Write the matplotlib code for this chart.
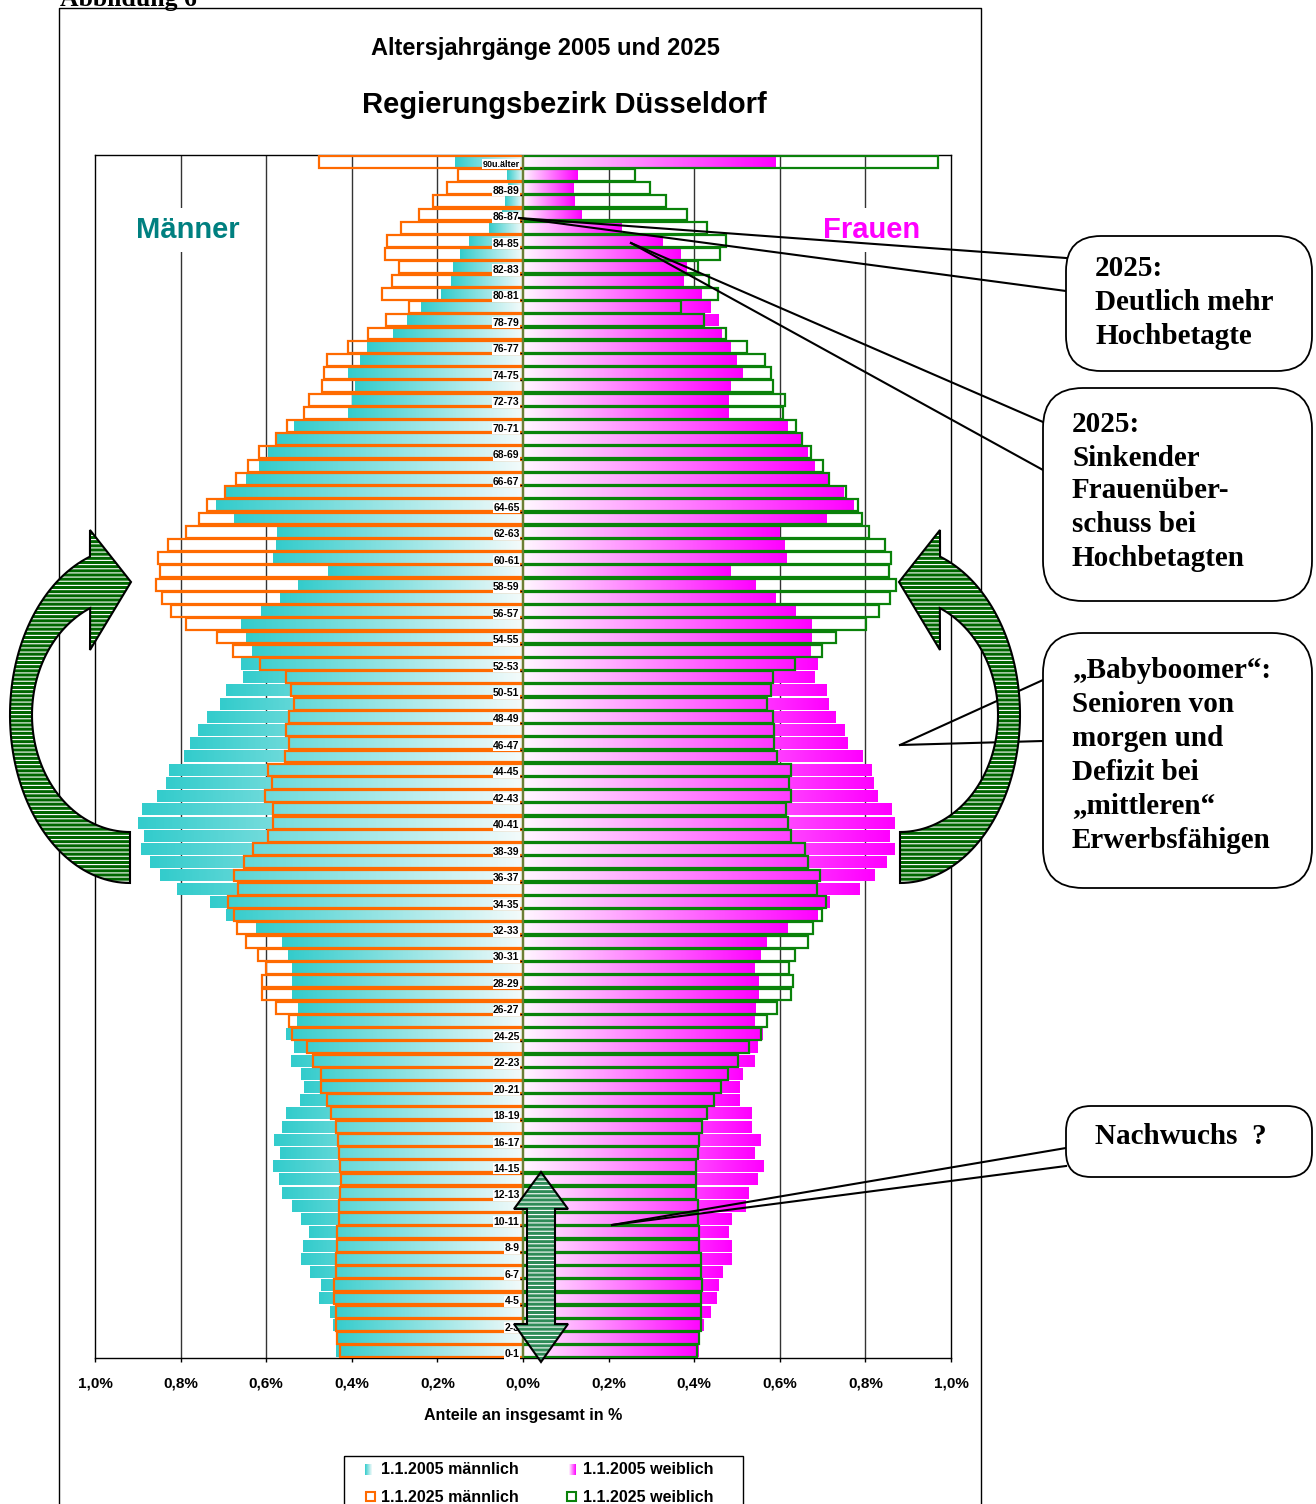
import numpy as np
import matplotlib.pyplot as plt
from matplotlib.colors import LinearSegmentedColormap
from matplotlib.patches import Polygon, FancyBboxPatch, Rectangle

plt.rcParams['font.family'] = ['Liberation Sans', 'DejaVu Sans']
plt.rcParams['hatch.linewidth'] = 0.8

# ages 0 .. 90 (90 = "90 und älter"), shares of total population in %
ages = np.arange(91)

men_2005 = [0.437, 0.434, 0.443, 0.451, 0.477, 0.472, 0.498, 0.519, 0.514, 0.500,
            0.519, 0.540, 0.563, 0.570, 0.584, 0.568, 0.582, 0.563, 0.554, 0.521,
            0.512, 0.519, 0.542, 0.535, 0.554, 0.528, 0.526, 0.540, 0.540, 0.540,
            0.549, 0.563, 0.624, 0.694, 0.731, 0.808, 0.848, 0.871, 0.893, 0.886,
            0.900, 0.890, 0.855, 0.834, 0.827, 0.792, 0.778, 0.759, 0.738, 0.708,
            0.694, 0.654, 0.659, 0.633, 0.647, 0.659, 0.612, 0.568, 0.526, 0.456,
            0.584, 0.577, 0.575, 0.675, 0.717, 0.695, 0.647, 0.617, 0.596, 0.577,
            0.535, 0.409, 0.400, 0.393, 0.409, 0.381, 0.364, 0.304, 0.271, 0.238,
            0.192, 0.168, 0.164, 0.147, 0.126, 0.079, 0.050, 0.042, 0.035, 0.038,
            0.159]

men_2025 = [0.428, 0.434, 0.438, 0.438, 0.442, 0.442, 0.438, 0.438, 0.434, 0.434,
            0.430, 0.430, 0.427, 0.426, 0.428, 0.431, 0.433, 0.438, 0.448, 0.459,
            0.473, 0.473, 0.490, 0.504, 0.540, 0.546, 0.577, 0.610, 0.610, 0.601,
            0.620, 0.648, 0.668, 0.676, 0.690, 0.665, 0.675, 0.651, 0.630, 0.595,
            0.585, 0.585, 0.602, 0.587, 0.595, 0.557, 0.546, 0.553, 0.546, 0.536,
            0.542, 0.553, 0.614, 0.678, 0.714, 0.788, 0.823, 0.844, 0.857, 0.847,
            0.852, 0.830, 0.788, 0.756, 0.739, 0.697, 0.671, 0.643, 0.616, 0.578,
            0.552, 0.511, 0.500, 0.469, 0.464, 0.459, 0.410, 0.361, 0.321, 0.266,
            0.329, 0.307, 0.289, 0.322, 0.317, 0.286, 0.244, 0.210, 0.178, 0.153,
            0.476]

women_2005 = [0.410, 0.411, 0.422, 0.437, 0.451, 0.456, 0.465, 0.488, 0.488, 0.479,
              0.488, 0.519, 0.528, 0.549, 0.563, 0.542, 0.556, 0.533, 0.533, 0.507,
              0.507, 0.514, 0.540, 0.548, 0.560, 0.540, 0.544, 0.551, 0.551, 0.542,
              0.556, 0.568, 0.619, 0.688, 0.717, 0.787, 0.822, 0.850, 0.869, 0.857,
              0.869, 0.860, 0.829, 0.820, 0.815, 0.794, 0.759, 0.752, 0.731, 0.713,
              0.708, 0.681, 0.689, 0.672, 0.675, 0.675, 0.636, 0.591, 0.544, 0.485,
              0.616, 0.611, 0.600, 0.708, 0.773, 0.748, 0.713, 0.680, 0.664, 0.653,
              0.619, 0.479, 0.479, 0.484, 0.513, 0.499, 0.485, 0.463, 0.456, 0.438,
              0.418, 0.376, 0.381, 0.367, 0.325, 0.231, 0.137, 0.121, 0.118, 0.128,
              0.590]

women_2025 = [0.407, 0.411, 0.415, 0.415, 0.415, 0.419, 0.415, 0.415, 0.411, 0.411,
              0.408, 0.408, 0.404, 0.404, 0.404, 0.408, 0.411, 0.418, 0.430, 0.446,
              0.463, 0.478, 0.502, 0.527, 0.555, 0.569, 0.593, 0.625, 0.632, 0.621,
              0.635, 0.667, 0.678, 0.699, 0.709, 0.688, 0.695, 0.667, 0.660, 0.625,
              0.618, 0.614, 0.625, 0.621, 0.625, 0.593, 0.586, 0.586, 0.583, 0.569,
              0.579, 0.583, 0.636, 0.699, 0.731, 0.801, 0.831, 0.857, 0.871, 0.856,
              0.859, 0.846, 0.808, 0.793, 0.783, 0.755, 0.716, 0.702, 0.674, 0.653,
              0.639, 0.607, 0.611, 0.583, 0.579, 0.565, 0.523, 0.475, 0.424, 0.368,
              0.456, 0.435, 0.408, 0.460, 0.475, 0.429, 0.383, 0.334, 0.296, 0.261,
              0.970]

label_ages = list(range(0, 91, 2))
age_labels = ['0-1', '2-3', '4-5', '6-7', '8-9', '10-11', '12-13', '14-15', '16-17',
              '18-19', '20-21', '22-23', '24-25', '26-27', '28-29', '30-31', '32-33',
              '34-35', '36-37', '38-39', '40-41', '42-43', '44-45', '46-47', '48-49',
              '50-51', '52-53', '54-55', '56-57', '58-59', '60-61', '62-63', '64-65',
              '66-67', '68-69', '70-71', '72-73', '74-75', '76-77', '78-79', '80-81',
              '82-83', '84-85', '86-87', '88-89', '90u.älter']

x_ticks = [-1.0, -0.8, -0.6, -0.4, -0.2, 0.0, 0.2, 0.4, 0.6, 0.8, 1.0]
x_ticklabels = ['1,0%', '0,8%', '0,6%', '0,4%', '0,2%', '0,0%',
                '0,2%', '0,4%', '0,6%', '0,8%', '1,0%']

CYAN = '#33cccc'
MAGENTA = '#ff00ff'
ORANGE = '#ff6a00'
GREEN = '#0a820a'
cmap_m = LinearSegmentedColormap.from_list('men', ['#f4fbfb', CYAN])
cmap_f = LinearSegmentedColormap.from_list('women', ['#fff7ff', MAGENTA])

W, H = 1316, 1504
fig = plt.figure(figsize=(W / 100, H / 100), dpi=100)

ax = fig.add_axes([95 / W, 1 - 1358 / H, 856 / W, 1203 / H])
ax.set_xlim(-1, 1)
ax.set_ylim(-0.5, 90.5)
ax.set_autoscale_on(False)

for gx in [-0.8, -0.6, -0.4, -0.2, 0.2, 0.4, 0.6, 0.8]:
    ax.axvline(gx, color='#333333', lw=1, zorder=0.5)

bh = 0.9
grad = np.linspace(0, 1, 200).reshape(1, -1)


def gradient_fill(bars, cmap):
    # each bar gets its own gradient: pale at the centre, full colour at the outer end
    for b in bars:
        x0, w = b.get_x(), b.get_width()
        y0, h = b.get_y(), b.get_height()
        ax.imshow(grad, extent=(x0, x0 + w, y0, y0 + h), cmap=cmap,
                  aspect='auto', interpolation='bilinear', zorder=1)


bars_m05 = ax.barh(ages, -np.array(men_2005), height=bh, color='none', lw=0)
bars_f05 = ax.barh(ages, women_2005, height=bh, color='none', lw=0)
gradient_fill(bars_m05, cmap_m)
gradient_fill(bars_f05, cmap_f)

ax.barh(ages, -np.array(men_2025), height=bh, fill=False, edgecolor=ORANGE, lw=1.6, zorder=3)
ax.barh(ages, women_2025, height=bh, fill=False, edgecolor=GREEN, lw=1.6, zorder=3)

for a, lab in zip(label_ages, age_labels):
    fs = 6.5 if a == 90 else 7.5
    ax.text(-0.008, a - 0.2, lab, ha='right', va='center', fontsize=fs, fontweight='bold',
            zorder=4, bbox=dict(fc='white', ec='none', pad=0.4))
ax.hlines([a - 0.5 for a in label_ages[1:]], -0.008, 0, color='black', lw=1, zorder=4)
ax.axvline(0, color='#7f7f3f', lw=1.2, zorder=5)

ax.set_xticks(x_ticks)
ax.set_xticklabels(x_ticklabels, fontweight='bold', fontsize=11)
ax.set_yticks([])
ax.tick_params(axis='x', direction='out', length=3, width=1, pad=10)
ax.set_xlabel('Anteile an insgesamt in %', fontweight='bold', fontsize=11.5, labelpad=13)
for s in ax.spines.values():
    s.set_color('black')
    s.set_linewidth(1)

# overlay in pixel coordinates for titles, callouts, arrows and legend
ov = fig.add_axes([0, 0, 1, 1], zorder=10)
ov.set_xlim(0, W)
ov.set_ylim(H, 0)
ov.set_autoscale_on(False)
ov.axis('off')

ov.plot([59, 59, 981, 981], [H, 8, 8, H], color='black', lw=1)
ov.text(60, 6, 'Abbildung 6', family='Liberation Serif', fontweight='bold',
        fontsize=18.5, va='baseline', ha='left')

ov.text(545, 49, 'Altersjahrgänge 2005 und 2025', ha='center', va='center',
        fontsize=17, fontweight='bold')
ov.text(564, 105, 'Regierungsbezirk Düsseldorf', ha='center', va='center',
        fontsize=21, fontweight='bold')

ov.text(188, 230, 'Männer', ha='center', va='center', fontsize=21, fontweight='bold',
        color='#008080', bbox=dict(fc='white', ec='none', pad=6))
ov.text(872, 230, 'Frauen', ha='center', va='center', fontsize=21, fontweight='bold',
        color=MAGENTA, bbox=dict(fc='white', ec='none', pad=6))


def callout(x0, y0, x1, y1, r, tip, bases, lines, tx, ty):
    ov.add_patch(FancyBboxPatch((x0, y0), x1 - x0, y1 - y0,
                                boxstyle=f'round,pad=0,rounding_size={r}',
                                fc='white', ec='black', lw=1.3, zorder=6))
    for bx, by in bases:
        ov.plot([tip[0], bx], [tip[1], by], color='black', lw=1.5, zorder=5)
    for txt, yy in zip(lines, ty):
        ov.text(tx, yy, txt, family='Liberation Serif', fontweight='bold', fontsize=21,
                ha='left', va='center', zorder=7)


callout(1066, 236, 1312, 371, 35, (519, 218), [(1066, 258), (1066, 291)],
        ['2025:', 'Deutlich mehr', 'Hochbetagte'], 1095, [268, 302, 336])
callout(1043, 388, 1312, 601, 40, (631, 243), [(1043, 422), (1043, 470)],
        ['2025:', 'Sinkender', 'Frauenüber-', 'schuss bei', 'Hochbetagten'],
        1072, [424, 458, 491, 525, 559])
callout(1043, 633, 1312, 888, 40, (900, 745), [(1043, 680), (1043, 741)],
        ['\u201eBabyboomer\u201c:', 'Senioren von', 'morgen und', 'Defizit bei',
         '\u201emittleren\u201c', 'Erwerbsfähigen'],
        1072, [671, 705, 738, 772, 806, 840])
callout(1066, 1106, 1312, 1177, 25, (612, 1225), [(1066, 1148), (1066, 1166)],
        ['Nachwuchs  ?'], 1095, [1136])


def hatched_shape(pts, color):
    ov.add_patch(Polygon(pts, closed=True, fc=color, ec='none', zorder=8))
    ov.add_patch(Polygon(pts, closed=True, fc='none', ec='white', hatch='----',
                         lw=0, zorder=8.5))
    ov.add_patch(Polygon(pts, closed=True, fill=False, ec='black', lw=1.5, zorder=9))


# curved arrows on both sides
t_out = np.radians(np.linspace(90, 250.5, 80))
outer = np.c_[130 + 120 * np.cos(t_out), 715 + 168 * np.sin(t_out)]
t_in = np.radians(np.linspace(246.0, 90, 80))
inner = np.c_[130 + 98 * np.cos(t_in), 715 + 117 * np.sin(t_in)]
head = np.array([[90, 530], [131, 582], [90, 650]])
left_arrow = np.vstack([outer, head, inner])
right_arrow = left_arrow.copy()
right_arrow[:, 0] = 1030 - right_arrow[:, 0]
hatched_shape(left_arrow, '#006600')
hatched_shape(right_arrow, '#006600')

# double arrow at the young ages
dbl = np.array([[541, 1172], [568, 1209], [555, 1209], [555, 1324], [568, 1324],
                [541, 1362], [514, 1324], [527, 1324], [527, 1209], [514, 1209]])
hatched_shape(dbl, '#2e8b57')

# legend
ov.add_patch(Rectangle((344, 1456), 399, 60, fill=False, ec='black', lw=1, zorder=6))
ov.imshow(grad, extent=(372, 365, 1475, 1464), cmap=cmap_m, aspect='auto', zorder=7)
ov.imshow(grad, extent=(569, 576, 1475, 1464), cmap=cmap_f, aspect='auto', zorder=7)
ov.add_patch(Rectangle((366, 1492), 9, 9, fill=False, ec=ORANGE, lw=1.5, zorder=7))
ov.add_patch(Rectangle((567, 1492), 9, 9, fill=False, ec=GREEN, lw=1.5, zorder=7))
for txt, xx, yy in [('1.1.2005 männlich', 381, 1470), ('1.1.2005 weiblich', 583, 1470),
                    ('1.1.2025 männlich', 381, 1497), ('1.1.2025 weiblich', 583, 1497)]:
    ov.text(xx, yy, txt, fontsize=11.5, fontweight='bold', ha='left', va='center', zorder=7)
ov.set_xlim(0, W)
ov.set_ylim(H, 0)

fig.savefig('out.png', dpi=100)
